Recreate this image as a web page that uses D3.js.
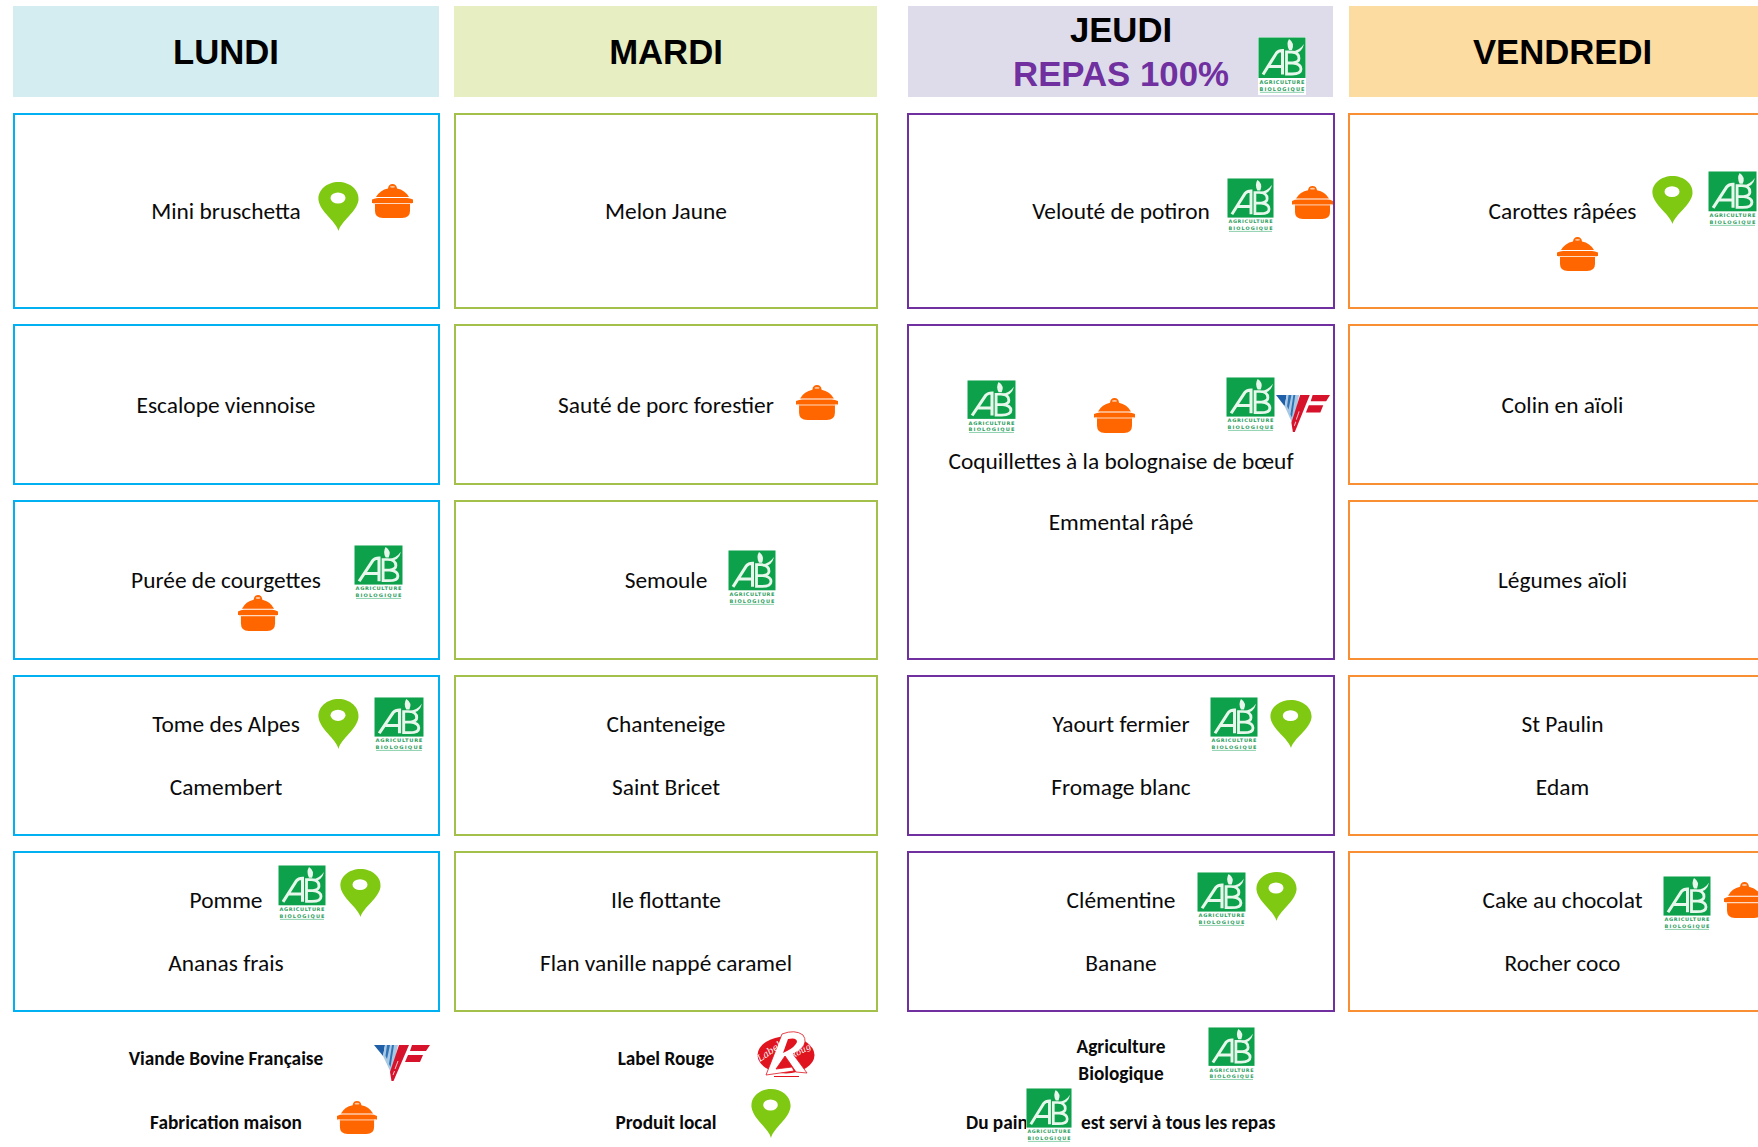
<!DOCTYPE html>
<html lang="fr"><head><meta charset="utf-8"><title>Menu</title>
<script src="https://cdn.jsdelivr.net/npm/d3@7"></script>
<style>html,body{margin:0;padding:0;background:#fff;overflow:hidden}svg{display:block}</style>
</head><body><div id="chart"></div>
<script>
// ---- content ----
const days = ["LUNDI", "MARDI", "JEUDI", "VENDREDI"];
const courses = ["entree", "plat", "accompagnement", "fromage", "dessert"];
const lundi = [["Mini bruschetta"], ["Escalope viennoise"], ["Purée de courgettes"], ["Tome des Alpes", "Camembert"], ["Pomme", "Ananas frais"]];
const mardi = [["Melon Jaune"], ["Sauté de porc forestier"], ["Semoule"], ["Chanteneige", "Saint Bricet"], ["Ile flottante", "Flan vanille nappé caramel"]];
const jeudi = [["Velouté de potiron"], ["Coquillettes à la bolognaise de bœuf", "Emmental râpé"], null, ["Yaourt fermier", "Fromage blanc"], ["Clémentine", "Banane"]];
const vendredi = [["Carottes râpées"], ["Colin en aïoli"], ["Légumes aïoli"], ["St Paulin", "Edam"], ["Cake au chocolat", "Rocher coco"]];
const menus = [lundi, mardi, jeudi, vendredi];
const jeudiSubtitle = "REPAS 100%";
const legendLines = ["Viande Bovine Française", "Fabrication maison", "Label Rouge", "Produit local", "Agriculture", "Biologique", "Du pain", "est servi à tous les repas"];

// ---- layout ----
const W = 1758, H = 1147;
const colEdges = [[14, 439], [455, 877], [908, 1334], [1349, 1790]];
const headEdges = [[13, 439], [454, 877], [908, 1333], [1349, 1790]];
const colCenters = [226, 666, 1121, 1562.5];
const rowEdges = [[114, 308], [325, 484], [501, 659], [676, 835], [852, 1011]];
const headerY = [6, 97];
const headerFill = ["#D3EDF0", "#E6EEC2", "#DEDCEB", "#FDDCA2"];
const borderCol = ["#00B0F0", "#A2C04A", "#7030A0", "#F98F33"];

const xCol = d3.scaleOrdinal().domain(days).range(colEdges);
const xHead = d3.scaleOrdinal().domain(days).range(headEdges);
const xMid = d3.scaleOrdinal().domain(days).range(colCenters);
const yRow = d3.scaleOrdinal().domain(courses).range(rowEdges);

const TXT = "Carlito, Lato, sans-serif";
const HEAD = "'Liberation Sans', Arial, sans-serif";
const svg = d3.select("#chart").append("svg").attr("width", W).attr("height", H).attr("viewBox", `0 0 ${W} ${H}`);

// headers
svg.append("g").selectAll("rect").data(days).join("rect")
  .attr("x", d => xHead(d)[0]).attr("y", headerY[0])
  .attr("width", d => xHead(d)[1] - xHead(d)[0]).attr("height", headerY[1] - headerY[0])
  .attr("fill", (d, i) => headerFill[i]);
svg.append("g").selectAll("text").data(days).join("text")
  .attr("x", d => xMid(d)).attr("y", d => d === "JEUDI" ? 42 : 64)
  .attr("text-anchor", "middle").attr("font-family", HEAD)
  .attr("font-weight", 700).attr("font-size", 34.7).attr("fill", "#000").text(d => d);
svg.append("text").attr("x", xMid("JEUDI")).attr("y", 86).attr("text-anchor", "middle")
  .attr("font-family", HEAD).attr("font-weight", 700).attr("font-size", 34.8)
  .attr("fill", "#7030A0").text(jeudiSubtitle);

// cells
const cells = [];
days.forEach((day, i) => {
  menus[i].forEach((lines, c) => {
    if (!lines) return;
    const last = (c + 1 < courses.length && menus[i][c + 1] === null) ? c + 1 : c;
    cells.push({ day, i, lines, top: yRow(courses[c])[0], bottom: yRow(courses[last])[1] });
  });
});
svg.append("g").selectAll("rect").data(cells).join("rect")
  .attr("x", d => xCol(d.day)[0]).attr("y", d => d.top)
  .attr("width", d => xCol(d.day)[1] - xCol(d.day)[0]).attr("height", d => d.bottom - d.top)
  .attr("fill", "#fff").attr("stroke", d => borderCol[d.i]).attr("stroke-width", 2);

const LINE = 63;
const dishes = cells.flatMap(c => c.lines.map((t, k) => ({
  t, x: xMid(c.day), y: Math.ceil((c.top + c.bottom) / 2) + (k - (c.lines.length - 1) / 2) * (c.bottom - c.top > 300 ? 61.5 : LINE) })));
svg.append("g").selectAll("text").data(dishes).join("text")
  .attr("x", d => d.x).attr("y", d => d.y + 7.5).attr("text-anchor", "middle")
  .attr("font-family", TXT).attr("font-size", 23.4).attr("fill", "#0a0a0a").text(d => d.t);

// legend
const LEG = 19.3;
const legendPlaced = [
  [legendLines[0], colCenters[0], 1065], [legendLines[1], colCenters[0], 1129],
  [legendLines[2], colCenters[1], 1065], [legendLines[3], colCenters[1], 1129],
  [legendLines[4], colCenters[2], 1052.5], [legendLines[5], colCenters[2], 1079.5]
];
svg.append("g").selectAll("text").data(legendPlaced).join("text")
  .attr("x", d => d[1]).attr("y", d => d[2]).attr("text-anchor", "middle")
  .attr("font-family", TXT).attr("font-weight", 700).attr("font-size", LEG).attr("fill", "#0a0a0a").text(d => d[0]);
svg.append("text").attr("x", 966).attr("y", 1129).attr("font-family", TXT).attr("font-weight", 700).attr("font-size", LEG).attr("fill", "#0a0a0a").text(legendLines[6]);
svg.append("text").attr("x", 1081).attr("y", 1129).attr("font-family", TXT).attr("font-weight", 700).attr("font-size", LEG).attr("fill", "#0a0a0a").text(legendLines[7]);

// ---- icons ----
function drawAB(g) {
  const pale = "#E8F7EC";
  g.append("rect").attr("width", 48).attr("height", 58).attr("fill", "#fff");
  g.append("rect").attr("x", 0.5).attr("y", 0.5).attr("width", 47).attr("height", 40.5).attr("fill", "#0DA14B");
  g.append("path").attr("d", "M5 37.5 L18.5 16 Q20.5 13.5 24.5 13.5 V37.5 M11 29.5 H24").attr("fill", "none").attr("stroke", pale).attr("stroke-width", 3);
  g.append("path").attr("d", "M28.5 15 H33 Q41 15 41 21.5 Q41 25 35 26 Q43 27 43 32 Q43 37 34 37 H28.5 Z M28.5 26 H35").attr("fill", "none").attr("stroke", pale).attr("stroke-width", 2.8);
  g.append("path").attr("d", "M31 13 Q28 7 31 2 Q37 6 34 13 Z M34 14.5 Q41 14 46 7 Q44 16.5 35 16.5 Z").attr("fill", pale);
  g.selectAll("text").data(["AGRICULTURE", "BIOLOGIQUE"]).join("text")
    .attr("x", 24).attr("y", (d, i) => 47 + i * 7).attr("text-anchor", "middle")
    .attr("font-family", "'DejaVu Sans', sans-serif").attr("font-weight", 700).attr("font-size", 5)
    .attr("textLength", 45).attr("lengthAdjust", "spacing").attr("fill", "#2E9E60").text(d => d);
  g.append("path").attr("d", "M2 55.3 H46").attr("stroke", "#6CC496").attr("stroke-width", 0.8);
}
function drawPin(g) {
  g.append("path").attr("d", "M20.5 49 C18 39 2 30 0.5 18 C-0.5 8 9 0 20.5 0 C32 0 41.5 8 40.5 18 C39 30 23 39 20.5 49 Z").attr("fill", "#80C912");
  g.append("ellipse").attr("cx", 20).attr("cy", 16).attr("rx", 7.5).attr("ry", 5.5).attr("fill", "#fff");
}
function drawPot(g) {
  const o = "#FF6600";
  g.append("path").attr("d", "M4 13 Q8 6 16 4.5 Q16.5 0 20.5 0 Q24.5 0 25 4.5 Q33 6 37 13 Z").attr("fill", o);
  g.append("path").attr("d", "M0 15.5 Q3 14 6 14 H35 Q38 14 41 15.5 V19 H38 V27 Q38 34 30 34 H11 Q3 34 3 27 V19 H0 Z").attr("fill", o);
  g.append("path").attr("d", "M1 19.5 H40").attr("stroke", "#FFD9BF").attr("stroke-width", 1);
  g.append("ellipse").attr("cx", 20.5).attr("cy", 2.8).attr("rx", 2.5).attr("ry", 0.9).attr("fill", "#FFC9A3");
}
function drawVF(g) {
  g.append("path").attr("d", "M0 0 H11 L9 11 Z").attr("fill", "#1F5FA8");
  g.append("path").attr("d", "M11 0 H24 L18 30 L9 11 Z").attr("fill", "#A9C8E4");
  g.append("path").attr("d", "M13 0 H16 L13 14 L11.5 11 Z M18 0 H20 L16.5 22 L15 19 Z").attr("fill", "#2F73B4");
  g.append("path").attr("d", "M25 0 H35 L19.5 36 H17.5 L16 27 Z").attr("fill", "#D7132C");
  g.append("path").attr("d", "M21 24 L24 16 M19 30 L20.5 26").attr("stroke", "#F6C4CC").attr("stroke-width", 1);
  g.append("path").attr("d", "M38 0 H56 L52 6 H36 Z M34 10 H49 L46 17 H31 Z").attr("fill", "#D7132C");
}
function drawLR(g) {
  g.append("ellipse").attr("cx", 29).attr("cy", 24).attr("rx", 28.5).attr("ry", 18.5).attr("fill", "#E0141E");
  g.append("path").attr("d", "M25 3 Q38 -2 46 4 Q51 11 44 18 Q40 21 36 23 L50 42 L39 41 L28 25 L19 38 L35 36 L37 40 L9 44 Z").attr("fill", "#fff").attr("stroke", "#E0141E").attr("stroke-width", 0.8);
  g.append("path").attr("d", "M31 8 Q40 6 40 11 Q38 16 30 20 L26 22 Z").attr("fill", "#E0141E");
  g.append("path").attr("d", "M17 45.5 H42").attr("stroke", "#E0141E").attr("stroke-width", 1);
  g.append("text").attr("transform", "translate(3,31) rotate(-35)").attr("font-family", "'DejaVu Serif', serif").attr("font-style", "italic").attr("font-size", 9.5).attr("fill", "#fff").text("Label");
  g.append("text").attr("transform", "translate(35,28) rotate(-29)").attr("font-family", "'DejaVu Serif', serif").attr("font-style", "italic").attr("font-size", 8.5).attr("fill", "#fff").text("Rouge");
}
const iconDraw = { ab: [drawAB, 48, 58], pin: [drawPin, 41, 49], pot: [drawPot, 41, 34], vf: [drawVF, 56, 36], lr: [drawLR, 58, 46] };
// icon id, left, top, right, bottom (as measured on the page)
const placements = [
  ["ab", 1258, 37, 1306, 95],
  ["pin", 318, 182, 359, 231], ["pot", 372, 184, 413, 218],
  ["ab", 1227, 178, 1274, 234], ["pot", 1292, 186, 1333, 219],
  ["pin", 1652, 176, 1693, 224], ["ab", 1708, 171, 1757, 228], ["pot", 1557, 237, 1598, 271],
  ["pot", 796, 385, 838, 420],
  ["ab", 354, 545, 403, 601], ["pot", 238, 595, 278, 631],
  ["ab", 728, 550, 776, 607],
  ["pin", 318, 699, 359, 749], ["ab", 374, 697, 424, 753],
  ["ab", 278, 865, 326, 922], ["pin", 340, 869, 381, 917],
  ["ab", 967, 380, 1016, 435], ["pot", 1094, 398, 1135, 433], ["ab", 1226, 377, 1275, 433], ["vf", 1276, 395, 1330, 432],
  ["ab", 1210, 697, 1258, 753], ["pin", 1270, 700, 1312, 748],
  ["ab", 1197, 872, 1246, 928], ["pin", 1256, 872, 1297, 921],
  ["ab", 1663, 876, 1711, 932], ["pot", 1724, 882, 1765, 918],
  ["vf", 374, 1045, 430, 1081], ["lr", 757, 1031, 815, 1077],
  ["pot", 337, 1101, 377, 1134], ["pin", 751, 1089, 791, 1138],
  ["ab", 1208, 1027, 1255, 1082], ["ab", 1026, 1088, 1072, 1144]
];
svg.append("g").selectAll("g").data(placements).join("g")
  .attr("transform", d => `translate(${d[1]},${d[2]}) scale(${(d[3]-d[1])/iconDraw[d[0]][1]},${(d[4]-d[2])/iconDraw[d[0]][2]})`)
  .each(function(d) { iconDraw[d[0]][0](d3.select(this)); });
</script></body></html>
